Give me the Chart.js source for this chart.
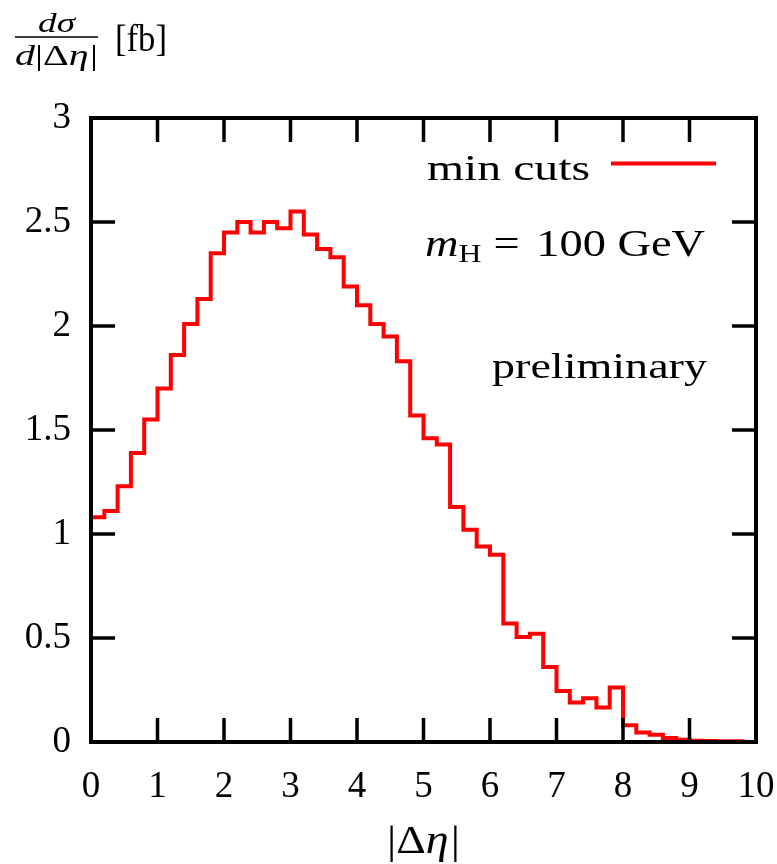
<!DOCTYPE html>
<html>
<head>
<meta charset="utf-8">
<script src="https://cdn.jsdelivr.net/npm/chart.js@4.4.1/dist/chart.umd.min.js"></script>
<style>
  html, body { margin: 0; padding: 0; background: #ffffff; }
  #wrap { width: 777px; height: 864px; position: relative; }
</style>
</head>
<body>
<div id="wrap"><canvas id="c" width="777" height="864"></canvas></div>
<script>
// ---- data ----
const binWidth = 0.2;
const binLeftEdges = [0.0,0.2,0.4,0.6,0.8,1.0,1.2,1.4,1.6,1.8,2.0,2.2,2.4,2.6,2.8,3.0,3.2,3.4,3.6,3.8,4.0,4.2,4.4,4.6,4.8,5.0,5.2,5.4,5.6,5.8,6.0,6.2,6.4,6.6,6.8,7.0,7.2,7.4,7.6,7.8,8.0,8.2,8.4,8.6,8.8,9.0,9.2,9.4,9.6,9.8];
const minCutsValues = [1.08,1.11,1.23,1.39,1.55,1.70,1.86,2.01,2.13,2.35,2.45,2.50,2.45,2.50,2.47,2.55,2.44,2.37,2.33,2.19,2.10,2.01,1.95,1.83,1.57,1.46,1.43,1.13,1.02,0.94,0.90,0.57,0.505,0.52,0.36,0.245,0.19,0.21,0.166,0.262,0.08,0.046,0.035,0.019,0.011,0.006,0.005,0.004,0.004,0.0];
const xTickValues = [0,1,2,3,4,5,6,7,8,9,10];
const yTickValues = [0,0.5,1,1.5,2,2.5,3];
const seriesLabel = "min cuts";
const annotationMass = "100 GeV";
const annotationNote = "preliminary";

const SERIF = "'Liberation Serif', 'DejaVu Serif', serif";

function drawParts(ctx, parts, x, baseline, targetWidth, align) {
  let total = 0;
  for (const p of parts) { ctx.font = p.font; total += ctx.measureText(p.t).width + (p.gap || 0); }
  const s = targetWidth ? targetWidth / total : 1;
  const w = total * s;
  let x0 = x;
  if (align === 'center') x0 = x - w / 2;
  if (align === 'right') x0 = x - w;
  ctx.save();
  ctx.translate(x0, baseline);
  ctx.scale(s, 1);
  ctx.textBaseline = 'alphabetic';
  ctx.textAlign = 'left';
  ctx.fillStyle = '#000';
  let cx = 0;
  for (const p of parts) {
    ctx.font = p.font;
    ctx.fillText(p.t, cx, p.dy || 0);
    cx += ctx.measureText(p.t).width + (p.gap || 0);
  }
  ctx.restore();
}

const framePlugin = {
  id: 'frame',
  afterDraw(chart) {
    const ctx = chart.ctx;
    const a = chart.chartArea;
    const xs = chart.scales.x, ys = chart.scales.y;
    ctx.save();
    ctx.strokeStyle = '#000';
    ctx.lineWidth = 3.5;
    ctx.lineCap = 'butt';
    const tl = 24;
    ctx.beginPath();
    for (const v of xTickValues) {
      const px = xs.getPixelForValue(v);
      if (v === 0 || v === 10) continue;
      ctx.moveTo(px, a.bottom); ctx.lineTo(px, a.bottom - tl);
      ctx.moveTo(px, a.top); ctx.lineTo(px, a.top + tl);
    }
    for (const v of yTickValues) {
      const py = ys.getPixelForValue(v);
      if (v === 0 || v === 3) continue;
      ctx.moveTo(a.left, py); ctx.lineTo(a.left + tl, py);
      ctx.moveTo(a.right, py); ctx.lineTo(a.right - tl, py);
    }
    ctx.stroke();
    ctx.lineWidth = 4;
    ctx.strokeRect(a.left, a.top, a.right - a.left, a.bottom - a.top);

    // legend
    const ds = chart.data.datasets[0];
    drawParts(ctx, [{t: ds.label, font: `36px ${SERIF}`}], 590, 180, 163, 'right');
    ctx.strokeStyle = ds.borderColor;
    ctx.lineWidth = 4;
    ctx.beginPath(); ctx.moveTo(611, 163.5); ctx.lineTo(716, 163.5); ctx.stroke();

    // m_H = 100 GeV
    drawParts(ctx, [
      {t: 'm', font: `italic 38px ${SERIF}`},
      {t: 'H', font: `26px ${SERIF}`, dy: 6, gap: 10},
      {t: '= ', font: `38px ${SERIF}`, gap: 4},
      {t: annotationMass, font: `38px ${SERIF}`}
    ], 425, 256, 280, 'left');

    // preliminary
    drawParts(ctx, [{t: annotationNote, font: `36px ${SERIF}`}], 707, 378, 215, 'right');

    // x axis title |Δη|
    drawParts(ctx, [
      {t: '|Δ', font: `40px ${SERIF}`},
      {t: 'η', font: `italic 40px ${SERIF}`, gap: 2},
      {t: '|', font: `40px ${SERIF}`}
    ], 387, 853, 73, 'left');

    // y axis title  dσ / d|Δη|  [fb]
    drawParts(ctx, [
      {t: 'd', font: `italic 28px ${SERIF}`},
      {t: 'σ', font: `italic 28px ${SERIF}`}
    ], 56.5, 32, 37, 'center');
    ctx.strokeStyle = '#000';
    ctx.lineWidth = 1.6;
    ctx.beginPath(); ctx.moveTo(15, 37); ctx.lineTo(98, 37); ctx.stroke();
    drawParts(ctx, [
      {t: 'd', font: `italic 30px ${SERIF}`},
      {t: '|Δ', font: `30px ${SERIF}`},
      {t: 'η', font: `italic 30px ${SERIF}`, gap: 1},
      {t: '|', font: `30px ${SERIF}`}
    ], 56.5, 65, 83, 'center');
    drawParts(ctx, [{t: '[fb]', font: `38px ${SERIF}`}], 115, 51, 52, 'left');
    ctx.restore();
  }
};

const points = binLeftEdges.map((x, i) => ({x: x, y: minCutsValues[i]}));

new Chart(document.getElementById('c'), {
  type: 'line',
  data: {
    datasets: [{
      label: seriesLabel,
      data: points,
      borderColor: '#ff0000',
      backgroundColor: '#ff0000',
      borderWidth: 4,
      pointRadius: 0,
      stepped: true,
      fill: false,
      tension: 0
    }]
  },
  options: {
    responsive: false,
    animation: false,
    devicePixelRatio: 1,
    layout: { padding: { top: 118, right: 21, left: 0, bottom: 0 } },
    plugins: { legend: { display: false }, tooltip: { enabled: false } },
    scales: {
      x: {
        type: 'linear', min: 0, max: 10,
        afterBuildTicks: (s) => { s.ticks = xTickValues.map(v => ({value: v})); },
        afterFit: (s) => { s.height = 122; s.paddingRight = 0; s.paddingLeft = 0; },
        grid: { display: false, drawTicks: false },
        border: { display: false },
        ticks: { color: '#000', font: { family: SERIF, size: 37 }, padding: 23, maxRotation: 0, callback: (v) => String(v) }
      },
      y: {
        type: 'linear', min: 0, max: 3,
        afterBuildTicks: (s) => { s.ticks = yTickValues.map(v => ({value: v})); },
        afterFit: (s) => { s.width = 91; },
        grid: { display: false, drawTicks: false },
        border: { display: false },
        ticks: { color: '#000', font: { family: SERIF, size: 37 }, padding: 20, callback: (v) => String(v) }
      }
    }
  },
  plugins: [framePlugin]
});
</script>
</body>
</html>
